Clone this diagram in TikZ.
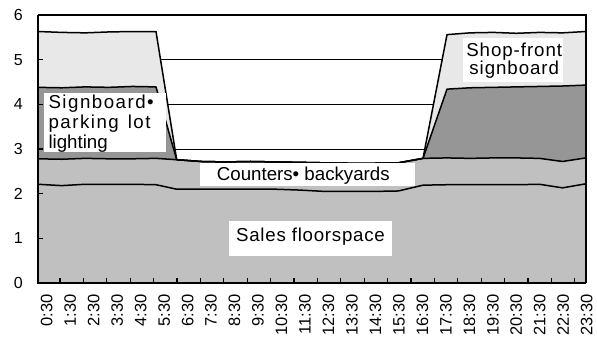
\documentclass[tikz,border=0pt]{standalone}
\usepackage{fontspec}
\setmainfont{Liberation Sans}
\definecolor{frontc}{HTML}{E8E8E8}
\definecolor{parkc}{HTML}{969696}
\definecolor{basec}{HTML}{C0C0C0}
\begin{document}
\begin{tikzpicture}[x=1pt,y=1pt,
  ser/.style={line width=1.5pt, line join=round},
  axisline/.style={line width=2pt},
  tickline/.style={line width=1.1pt},
  gridline/.style={line width=0.9pt},
  lbl/.style={font=\fontsize{18.7}{20}\selectfont, inner sep=0pt},
  xlab/.style={font=\fontsize{16.5}{18}\selectfont, inner sep=0pt},
  ylab/.style={font=\fontsize{16}{18}\selectfont, inner sep=0pt},
  labbox/.style={fill=white}]
\useasboundingbox (0,0) rectangle (597,345);
\fill[white] (0,0) rectangle (597,345);
\begin{scope}[shift={(0,62)}, y=44.67pt]
  \def\Cmid{-- (176.7,2.76) -- (201.3,2.72) -- (225.9,2.71) -- (250.6,2.72) -- (275.2,2.71) -- (299.9,2.70) -- (324.5,2.69) -- (349.1,2.68) -- (373.7,2.68) -- (398.4,2.69) -- (423,2.79)}
  \def\Srest{-- (61.6,2.18) -- (85.2,2.21) -- (108.8,2.21) -- (132.4,2.21) -- (156,2.20) -- (176.7,2.10) -- (201.3,2.10) -- (225.9,2.10) -- (250.6,2.10) -- (275.2,2.10) -- (299.9,2.08) -- (324.5,2.05) -- (349.1,2.05) -- (373.7,2.05) -- (398.4,2.06) -- (423,2.19) -- (447,2.20) -- (470.1,2.20) -- (493.2,2.20) -- (516.4,2.20) -- (539.5,2.21) -- (562.6,2.13) -- (585.7,2.22)}
  \def\Crest{-- (61.6,2.77) -- (85.2,2.79) -- (108.8,2.78) -- (132.4,2.78) -- (156,2.79) \Cmid -- (447,2.80) -- (470.1,2.79) -- (493.2,2.80) -- (516.4,2.80) -- (539.5,2.79) -- (562.6,2.72) -- (585.7,2.80)}
  \def\Prest{-- (61.6,4.37) -- (85.2,4.39) -- (108.8,4.38) -- (132.4,4.40) -- (156,4.39) \Cmid -- (447,4.34) -- (470.1,4.37) -- (493.2,4.38) -- (516.4,4.39) -- (539.5,4.40) -- (562.6,4.41) -- (585.7,4.43)}
  \def\Frest{-- (61.6,5.61) -- (85.2,5.60) -- (108.8,5.62) -- (132.4,5.63) -- (156,5.63) \Cmid -- (447,5.56) -- (470.1,5.60) -- (493.2,5.61) -- (516.4,5.59) -- (539.5,5.61) -- (562.6,5.60) -- (585.7,5.63)}
  % gridlines
  \foreach \v in {3,4,5} \draw[gridline] (38,\v) -- (585.7,\v);
  % areas
  \fill[frontc] (38,0) -- (38,5.63) \Frest -- (585.7,0) -- cycle;
  \fill[parkc] (38,0) -- (38,4.38) \Prest -- (585.7,0) -- cycle;
  \fill[basec] (38,0) -- (38,2.78) \Crest -- (585.7,0) -- cycle;
  % series outlines
  \draw[ser] (38,2.21) \Srest;
  \draw[ser] (38,2.78) \Crest;
  \draw[ser] (38,4.38) \Prest;
  \draw[ser] (38,5.63) \Frest;
  % ticks
  \foreach \v in {1,...,5} \draw[tickline] (38,\v) -- ++(5pt,0);
  \foreach \k in {0,...,22} \draw[tickline] ({60+23.4*\k},0) -- ++(0,5pt);
  % frame
  \draw[axisline] (38,6) -- (585.7,6) -- (585.7,0);
  \draw[axisline] (38,6) -- (38,0) -- (585.7,0);
\end{scope}
% label boxes
\fill[labbox] (44.3,193.3) rectangle (165.7,251.7);
\fill[labbox] (463.3,263.3) rectangle (563.3,306.7);
\fill[labbox] (200,158.5) rectangle (415,182);
\fill[labbox] (229.3,89.3) rectangle (392.3,124);
% label texts
\node[lbl, anchor=base west] (sig1) at (48.3,236.7) {\addfontfeature{LetterSpace=8}Signboard•};
\node[lbl, anchor=base west] (sig2) at (48.3,216.7) {\addfontfeature{LetterSpace=8}parking\hspace{9pt}lot};
\node[lbl, anchor=base west] (sig3) at (48.3,196.7) {lighting};
\node[lbl, anchor=base] (shop1) at (514.2,288.3) {\addfontfeature{LetterSpace=5}Shop-front};
\node[lbl, anchor=base] (shop2) at (514.2,270) {\addfontfeature{LetterSpace=5}signboard};
\node[lbl, anchor=base] (cnt) at (303.3,164.3) {Counters• backyards};
\node[lbl, anchor=base] (sales) at (310.5,103.3) {\addfontfeature{LetterSpace=4}Sales floorspace};
% axis labels
\foreach \v in {0,...,6} \node[ylab, anchor=east] (yl\v) at (23,{62+44.67*\v}) {\v};
\foreach \lab [count=\i from 0] in {0:30,1:30,2:30,3:30,4:30,5:30,6:30,7:30,8:30,9:30,10:30,11:30,12:30,13:30,14:30,15:30,16:30,17:30,18:30,19:30,20:30,21:30,22:30,23:30}
  \node[xlab, rotate=90, anchor=east] (xl\i) at ({46.7+23.48*\i},51) {\lab};
\end{tikzpicture}
\end{document}
